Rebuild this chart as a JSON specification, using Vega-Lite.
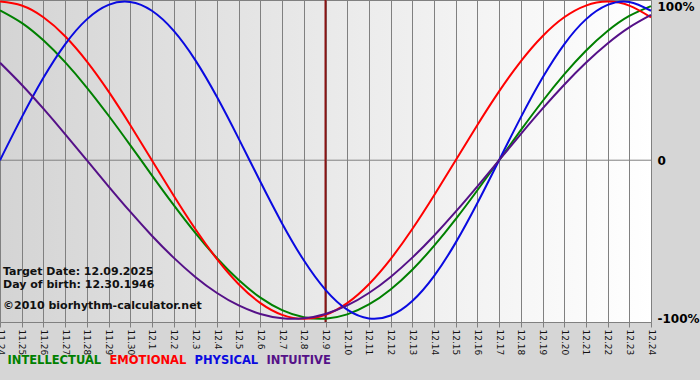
{
  "$schema": "https://vega.github.io/schema/vega-lite/v6.json",
  "width": 651,
  "height": 322,
  "autosize": {"type": "none"},
  "padding": {"left": 0, "top": 0, "right": 49, "bottom": 58},
  "background": "#d6d6d6",
  "config": {
    "font": "DejaVu Sans",
    "view": {
      "stroke": "#808080",
      "strokeWidth": 1,
      "fill": {"gradient": "linear", "x1": 0, "y1": 0, "x2": 1, "y2": 0,
               "stops": [{"offset": 0, "color": "#d4d4d4"}, {"offset": 1, "color": "#ffffff"}]}
    }
  },
  "data": {"values": [
    {"d": "11.24", "INTELLECTUAL": 0.945, "EMOTIONAL": 1, "PHYSICAL": 0, "INTUITIVE": 0.6142},
    {"d": "11.25", "INTELLECTUAL": 0.866, "EMOTIONAL": 0.9749, "PHYSICAL": 0.2698, "INTUITIVE": 0.4759},
    {"d": "11.26", "INTELLECTUAL": 0.7557, "EMOTIONAL": 0.901, "PHYSICAL": 0.5196, "INTUITIVE": 0.3247},
    {"d": "11.27", "INTELLECTUAL": 0.6182, "EMOTIONAL": 0.7818, "PHYSICAL": 0.7308, "INTUITIVE": 0.1646},
    {"d": "11.28", "INTELLECTUAL": 0.4582, "EMOTIONAL": 0.6235, "PHYSICAL": 0.8879, "INTUITIVE": 0},
    {"d": "11.29", "INTELLECTUAL": 0.2817, "EMOTIONAL": 0.4339, "PHYSICAL": 0.9791, "INTUITIVE": -0.1646},
    {"d": "11.30", "INTELLECTUAL": 0.0951, "EMOTIONAL": 0.2225, "PHYSICAL": 0.9977, "INTUITIVE": -0.3247},
    {"d": "12.1", "INTELLECTUAL": -0.0951, "EMOTIONAL": 0, "PHYSICAL": 0.9423, "INTUITIVE": -0.4759},
    {"d": "12.2", "INTELLECTUAL": -0.2817, "EMOTIONAL": -0.2225, "PHYSICAL": 0.817, "INTUITIVE": -0.6142},
    {"d": "12.3", "INTELLECTUAL": -0.4582, "EMOTIONAL": -0.4339, "PHYSICAL": 0.6311, "INTUITIVE": -0.7357},
    {"d": "12.4", "INTELLECTUAL": -0.6182, "EMOTIONAL": -0.6235, "PHYSICAL": 0.3984, "INTUITIVE": -0.8372},
    {"d": "12.5", "INTELLECTUAL": -0.7557, "EMOTIONAL": -0.7818, "PHYSICAL": 0.1362, "INTUITIVE": -0.9158},
    {"d": "12.6", "INTELLECTUAL": -0.866, "EMOTIONAL": -0.901, "PHYSICAL": -0.1362, "INTUITIVE": -0.9694},
    {"d": "12.7", "INTELLECTUAL": -0.945, "EMOTIONAL": -0.9749, "PHYSICAL": -0.3984, "INTUITIVE": -0.9966},
    {"d": "12.8", "INTELLECTUAL": -0.9898, "EMOTIONAL": -1, "PHYSICAL": -0.6311, "INTUITIVE": -0.9966},
    {"d": "12.9", "INTELLECTUAL": -0.9989, "EMOTIONAL": -0.9749, "PHYSICAL": -0.817, "INTUITIVE": -0.9694},
    {"d": "12.10", "INTELLECTUAL": -0.9718, "EMOTIONAL": -0.901, "PHYSICAL": -0.9423, "INTUITIVE": -0.9158},
    {"d": "12.11", "INTELLECTUAL": -0.9096, "EMOTIONAL": -0.7818, "PHYSICAL": -0.9977, "INTUITIVE": -0.8372},
    {"d": "12.12", "INTELLECTUAL": -0.8146, "EMOTIONAL": -0.6235, "PHYSICAL": -0.9791, "INTUITIVE": -0.7357},
    {"d": "12.13", "INTELLECTUAL": -0.6901, "EMOTIONAL": -0.4339, "PHYSICAL": -0.8879, "INTUITIVE": -0.6142},
    {"d": "12.14", "INTELLECTUAL": -0.5406, "EMOTIONAL": -0.2225, "PHYSICAL": -0.7308, "INTUITIVE": -0.4759},
    {"d": "12.15", "INTELLECTUAL": -0.3717, "EMOTIONAL": 0, "PHYSICAL": -0.5196, "INTUITIVE": -0.3247},
    {"d": "12.16", "INTELLECTUAL": -0.1893, "EMOTIONAL": 0.2225, "PHYSICAL": -0.2698, "INTUITIVE": -0.1646},
    {"d": "12.17", "INTELLECTUAL": 0, "EMOTIONAL": 0.4339, "PHYSICAL": 0, "INTUITIVE": 0},
    {"d": "12.18", "INTELLECTUAL": 0.1893, "EMOTIONAL": 0.6235, "PHYSICAL": 0.2698, "INTUITIVE": 0.1646},
    {"d": "12.19", "INTELLECTUAL": 0.3717, "EMOTIONAL": 0.7818, "PHYSICAL": 0.5196, "INTUITIVE": 0.3247},
    {"d": "12.20", "INTELLECTUAL": 0.5406, "EMOTIONAL": 0.901, "PHYSICAL": 0.7308, "INTUITIVE": 0.4759},
    {"d": "12.21", "INTELLECTUAL": 0.6901, "EMOTIONAL": 0.9749, "PHYSICAL": 0.8879, "INTUITIVE": 0.6142},
    {"d": "12.22", "INTELLECTUAL": 0.8146, "EMOTIONAL": 1, "PHYSICAL": 0.9791, "INTUITIVE": 0.7357},
    {"d": "12.23", "INTELLECTUAL": 0.9096, "EMOTIONAL": 0.9749, "PHYSICAL": 0.9977, "INTUITIVE": 0.8372},
    {"d": "12.24", "INTELLECTUAL": 0.9718, "EMOTIONAL": 0.901, "PHYSICAL": 0.9423, "INTUITIVE": 0.9158}
  ]},
  "layer": [
    {
      "data": {"values": [{}]},
      "mark": {"type": "rule", "color": "#808080", "strokeWidth": 1},
      "encoding": {"y": {"datum": 0}}
    },
    {
      "data": {"values": [{}]},
      "mark": {"type": "rule", "color": "#8b1414", "strokeWidth": 2},
      "encoding": {"x": {"datum": "12.9", "type": "ordinal"}}
    },
    {
      "transform": [{"fold": ["INTELLECTUAL", "EMOTIONAL", "PHYSICAL", "INTUITIVE"], "as": ["series", "value"]}],
      "mark": {"type": "line", "interpolate": "natural", "strokeWidth": 2},
      "encoding": {
        "x": {
          "field": "d", "type": "ordinal",
          "scale": {"type": "point", "padding": 0, "domain": ["11.24","11.25","11.26","11.27","11.28","11.29","11.30","12.1","12.2","12.3","12.4","12.5","12.6","12.7","12.8","12.9","12.10","12.11","12.12","12.13","12.14","12.15","12.16","12.17","12.18","12.19","12.20","12.21","12.22","12.23","12.24"]},
          "axis": {
            "title": null, "grid": true, "gridColor": "#808080", "gridOpacity": 1, "gridWidth": 1,
            "domain": false, "tickColor": "#808080", "tickSize": 5,
            "labelAngle": 90, "labelAlign": "left", "labelBaseline": "middle",
            "labelFont": "DejaVu Sans", "labelFontSize": 9, "labelColor": "#111111",
            "labelPadding": 2, "labelOverlap": false, "labelBound": false
          }
        },
        "y": {
          "field": "value", "type": "quantitative",
          "scale": {"domain": [-1.02, 1.01], "nice": false, "zero": false},
          "axis": {
            "orient": "right", "title": null, "values": [1, 0, -1], "grid": false, "ticks": false, "domain": false,
            "labelFont": "DejaVu Sans", "labelFontWeight": "bold", "labelFontSize": 12, "labelColor": "#000000",
            "labelPadding": 6, "labelFlush": false, "labelOverlap": false,
            "labelExpr": "datum.value == 1 ? '100%' : (datum.value == -1 ? '-100%' : '0')",
            "labelBaseline": {"condition": {"test": "datum.value == 1", "value": "top"}, "value": "middle"}
          }
        },
        "color": {
          "field": "series", "type": "nominal",
          "scale": {"domain": ["INTELLECTUAL", "EMOTIONAL", "PHYSICAL", "INTUITIVE"], "range": ["#008000", "#ff0000", "#0a0ae0", "#551188"]},
          "legend": {
            "orient": "none", "legendX": 7, "legendY": 355, "direction": "horizontal", "title": null,
            "gridAlign": "none",
            "symbolSize": 0, "symbolStrokeWidth": 0, "symbolOpacity": 0, "labelOffset": -11, "columnPadding": 7,
            "labelFont": "DejaVu Sans", "labelFontWeight": "bold", "labelFontSize": 11.5, "labelBaseline": "middle",
            "encode": {"labels": {"update": {"fill": {"scale": "color", "field": "value"}}}}
          }
        }
      }
    },
    {
      "data": {"values": [{}]},
      "mark": {"type": "text", "align": "left", "baseline": "middle", "dx": 3, "font": "DejaVu Sans", "fontWeight": "bold", "fontSize": 11, "color": "#111111"},
      "encoding": {"x": {"datum": "11.24", "type": "ordinal"}, "y": {"datum": -0.705}, "text": {"value": "Target Date: 12.09.2025"}}
    },
    {
      "data": {"values": [{}]},
      "mark": {"type": "text", "align": "left", "baseline": "middle", "dx": 3, "font": "DejaVu Sans", "fontWeight": "bold", "fontSize": 11, "color": "#111111"},
      "encoding": {"x": {"datum": "11.24", "type": "ordinal"}, "y": {"datum": -0.787}, "text": {"value": "Day of birth: 12.30.1946"}}
    },
    {
      "data": {"values": [{}]},
      "mark": {"type": "text", "align": "left", "baseline": "middle", "dx": 3, "font": "DejaVu Sans", "fontWeight": "bold", "fontSize": 11, "color": "#111111"},
      "encoding": {"x": {"datum": "11.24", "type": "ordinal"}, "y": {"datum": -0.919}, "text": {"value": "©2010 biorhythm-calculator.net"}}
    }
  ]
}
